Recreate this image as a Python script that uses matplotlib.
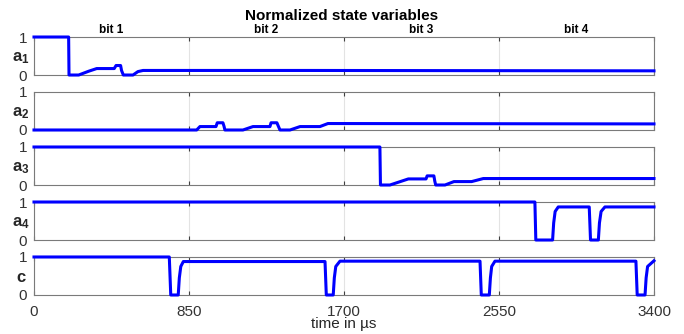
import matplotlib
matplotlib.use('Agg')
import matplotlib.pyplot as plt

plt.rcParams['font.family'] = ['Liberation Sans', 'DejaVu Sans']
plt.rcParams['mathtext.fontset'] = 'custom'
plt.rcParams['mathtext.rm'] = 'Liberation Sans'
plt.rcParams['mathtext.bf'] = 'Liberation Sans:bold'

# breakpoints (time in us, normalized value)
t_a1 = [0, 190, 192, 245, 300, 344, 440, 450, 475, 480, 490, 543, 570, 598, 1500, 3400]
v_a1 = [1, 1, 0, 0, 0.1, 0.17, 0.17, 0.25, 0.25, 0.12, 0, 0, 0.09, 0.12, 0.12, 0.11]

t_a2 = [0, 892, 910, 998, 1005, 1036, 1042, 1047, 1146, 1201, 1294, 1300, 1332, 1340, 1349,
        1404, 1459, 1568, 1612, 3400]
v_a2 = [0, 0, 0.09, 0.09, 0.19, 0.19, 0.1, 0, 0, 0.09, 0.09, 0.19, 0.19, 0.1, 0,
        0, 0.09, 0.09, 0.17, 0.16]

t_a3 = [0, 1897, 1900, 1952, 2053, 2150, 2156, 2193, 2198, 2203, 2254, 2303, 2400, 2464, 3400]
v_a3 = [1, 1, 0, 0, 0.16, 0.16, 0.24, 0.24, 0.1, 0, 0, 0.09, 0.09, 0.17, 0.17]

t_a4 = [0, 2747, 2752, 2844, 2850, 2858, 2875, 3045, 3052, 3095, 3101, 3110, 3131, 3400]
v_a4 = [1, 1, 0, 0, 0.45, 0.75, 0.87, 0.87, 0, 0, 0.45, 0.75, 0.87, 0.87]

t_c = [0, 742, 750, 791, 797, 805, 819, 1596, 1603, 1641, 1647, 1655, 1678,
       2446, 2453, 2497, 2503, 2510, 2528, 3301, 3308, 3351, 3357, 3365, 3400]
v_c = [1, 1, 0, 0, 0.45, 0.75, 0.88, 0.88, 0, 0, 0.45, 0.75, 0.89,
       0.89, 0, 0, 0.45, 0.75, 0.89, 0.89, 0, 0, 0.45, 0.75, 0.9]

series = [(t_a1, v_a1), (t_a2, v_a2), (t_a3, v_a3), (t_a4, v_a4), (t_c, v_c)]
ylabels = [r'$\mathbf{a_1}$', r'$\mathbf{a_2}$', r'$\mathbf{a_3}$', r'$\mathbf{a_4}$', r'$\mathbf{c}$']
xticks = [0, 850, 1700, 2550, 3400]
bit_labels = ['bit 1', 'bit 2', 'bit 3', 'bit 4']

fig = plt.figure(figsize=(6.84, 3.34), dpi=100)
bottoms = [0.7754, 0.6108, 0.4461, 0.2814, 0.1168]
axes = []
for i, (t, v) in enumerate(series):
    ax = fig.add_axes([0.0497, bottoms[i], 0.9064, 0.1138])
    ax.plot(t, v, color='#0000ff', lw=2.2, solid_joinstyle='round', clip_on=False, zorder=3)
    ax.set_xlim(0, 3400)
    ax.set_ylim(0, 1)
    ax.set_xticks(xticks)
    ax.set_yticks([0, 1])
    ax.grid(True, axis='x', color='#e3e3e3', lw=0.8)
    ax.tick_params(direction='in', top=True, right=False, length=3, width=0.8,
                   colors='#404040', labelcolor='#333333', labelsize=11, pad=3)
    ax.tick_params(axis='x', pad=7)
    ax.tick_params(axis='y', length=0, pad=5)
    for s in ax.spines.values():
        s.set_color('#7a7a7a')
        s.set_linewidth(0.8)
    ax.set_ylabel(ylabels[i], rotation=0, fontsize=12, va='center', color='#262626')
    ax.yaxis.set_label_coords(-0.021, 0.45)
    if i < 4:
        ax.set_xticklabels([])
    axes.append(ax)

axes[-1].set_xlabel('time in µs', fontsize=11, labelpad=-1, color='#262626')

for k, lab in enumerate(bit_labels):
    axes[0].text(425 + 850 * k, 1.03, lab, ha='center', va='bottom', fontsize=8.5,
                 fontweight='bold', transform=axes[0].get_xaxis_transform())

fig.text(0.5, 0.952, 'Normalized state variables', ha='center', va='center',
         fontsize=11, fontweight='bold', color='#000000')

fig.savefig('out.png', dpi=100)
